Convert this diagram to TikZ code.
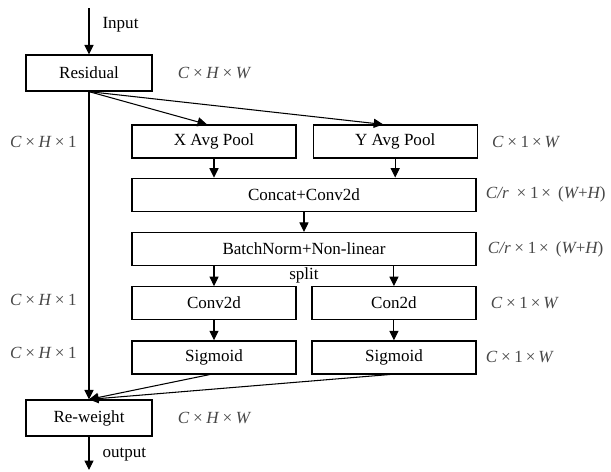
\documentclass[tikz,border=0pt]{standalone}
\usepackage{fontspec}
\setmainfont{Liberation Serif}
\usetikzlibrary{positioning, arrows.meta}
\colorlet{dimgray}{black!72}
\newcommand{\tms}{\,×\,}

\begin{document}
\begin{tikzpicture}[x=0.02cm, y=-0.02cm,
  block/.style={rectangle, draw, line width=0.7pt, minimum width=3.28cm,
                minimum height=0.66cm, inner sep=1pt,
                font=\fontsize{9.7}{11}\selectfont},
  wide/.style={block, minimum width=6.88cm},
  outer/.style={block, minimum width=2.52cm, minimum height=0.72cm},
  dim/.style={inner sep=0pt, color=dimgray, font=\fontsize{9.7}{11}\selectfont\itshape},
  arr/.style={-{Triangle[length=5.4pt, width=5.2pt]}, line width=0.6pt}
]
  \useasboundingbox (0,0) rectangle (611,471);
  % blocks
  \node[outer] (res) at (89,73) {Residual};
  \node[block] (xpool) at (214,141.5) {X Avg Pool};
  \node[block, right=0.32cm of xpool] (ypool) {Y Avg Pool};
  \node[wide, below=0.38cm of xpool.south west, anchor=north west] (concat) {Concat+Conv2d};
  \node[wide, below=0.4cm of concat] (bn) {BatchNorm+Non-linear};
  \node[block, below=0.4cm of bn.south west, anchor=north west] (conv) {Conv2d};
  \node[block, below=0.4cm of bn.south east, anchor=north east] (con) {Con2d};
  \node[block, below=0.4cm of conv] (sigx) {Sigmoid};
  \node[block, below=0.4cm of con] (sigy) {Sigmoid};
  \node[outer] (rew) at (89,418) {Re-weight};
  \coordinate (inp) at (89,8);
  \coordinate (outp) at (89,470);
  % connectors
  \draw[arr] (inp) -- node[pos=0.36, right=0.26cm, inner sep=0pt,
    font=\fontsize{9.7}{11}\selectfont] (lin) {Input} (res.north);
  \draw[arr] (res.south) -- ([xshift=-0.14cm]xpool.north);
  \draw[arr] (res.south) -- ([xshift=-0.24cm]ypool.north);
  \draw[arr] (res.south) -- (rew.north);
  \draw[arr] (xpool.south) -- (xpool.south |- concat.north);
  \draw[arr] (ypool.south) -- (ypool.south |- concat.north);
  \draw[arr] (concat) -- (bn);
  \draw[arr] (bn.south -| conv) -- (conv);
  \draw[arr] (bn.south -| con) -- (con);
  \node[below=1pt of bn.south, inner sep=0pt, font=\fontsize{9.7}{11}\selectfont] (spl) {split};
  \draw[arr] (conv) -- (sigx);
  \draw[arr] (con) -- (sigy);
  \draw[arr] ([xshift=-0.08cm]sigx.south) -- (rew.north);
  \draw[arr] ([xshift=-0.08cm]sigy.south) -- (rew.north);
  \draw[arr] (rew.south) -- node[pos=0.53, right=0.26cm, inner sep=0pt,
    font=\fontsize{9.7}{11}\selectfont] (lout) {output} (outp);
  % sizes
  \node[dim, right=0.5cm of res] (dres) {C\tms H\tms W};
  \node[dim, right=0.5cm of rew] (drew) {C\tms H\tms W};
  \node[dim, anchor=east] (dx1) at (77,142) {C\tms H\tms \upshape 1};
  \node[dim, anchor=east] (dx2) at (77,300) {C\tms H\tms \upshape 1};
  \node[dim, anchor=east] (dx3) at (77,353) {C\tms H\tms \upshape 1};
  \node[dim, right=0.28cm of ypool] (dy1) {C\tms\upshape 1\tms\itshape W};
  \node[dim, right=0.28cm of con] (dy2) {C\tms\upshape 1\tms\itshape W};
  \node[dim, right=0.18cm of sigy] (dy3) {C\tms\upshape 1\tms\itshape W};
  \node[dim, right=0.18cm of concat] (dc) {C/r \tms\upshape 1\tms\ (\itshape W\upshape +\itshape H\upshape )};
  \node[dim, right=0.22cm of bn] (dbn) {C/r\tms\upshape 1\tms\ (\itshape W\upshape +\itshape H\upshape )};
\end{tikzpicture}
\end{document}
